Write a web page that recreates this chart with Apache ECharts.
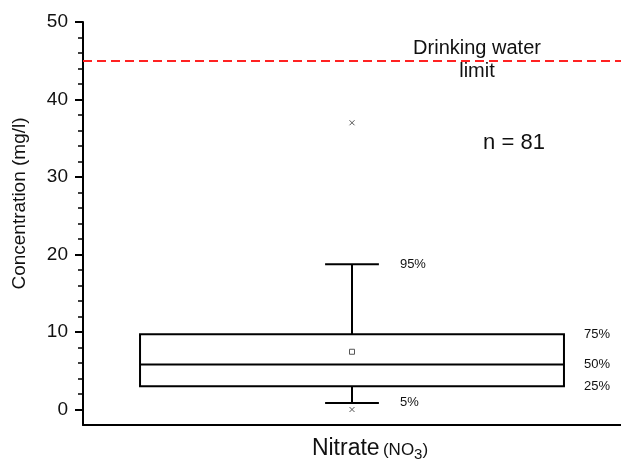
<!DOCTYPE html>
<html>
<head>
<meta charset="utf-8">
<script src="https://cdn.jsdelivr.net/npm/echarts@6/dist/echarts.min.js"></script>
<style>
  html, body { margin: 0; padding: 0; background: #fff; }
  #chart { width: 621px; height: 463px; }
</style>
</head>
<body>
<div id="chart"></div>
<script>
// Nitrate concentration summary (mg/l)
const categories = ['Nitrate'];
// percentiles per category: 5th, 25th, 50th, 75th, 95th
const p5 = [0.85];
const p25 = [3.0];
const p50 = [5.8];
const p75 = [9.7];
const p95 = [18.75];
const means = [7.45];
// individual extreme values: [category index, value]
const extremes = [[0, 37.0], [0, 0.0]];
const limitValue = 45;
const sampleCount = 81;
const majorTicks = [0, 10, 20, 30, 40, 50];
const minorTicks = [2, 4, 6, 8, 12, 14, 16, 18, 22, 24, 26, 28, 32, 34, 36, 38, 42, 44, 46, 48];

const FONT = "'Liberation Sans', Arial, sans-serif";

const boxData = categories.map((c, i) => [i, p5[i], p25[i], p50[i], p75[i], p95[i], means[i]]);

function renderBox(params, api) {
  const idx = api.value(0);
  const v = { p5: api.value(1), q1: api.value(2), med: api.value(3), q3: api.value(4), p95: api.value(5), mean: api.value(6) };
  const band = api.size([1, 0])[0];
  const cx = api.coord([idx, v.med])[0];
  const y = val => api.coord([idx, val])[1];
  const half = band * 0.394;
  const cap = band * 0.05;
  const stroke = { stroke: '#000', lineWidth: 2 };
  const line = (x1, y1, x2, y2) => ({ type: 'line', shape: { x1, y1, x2, y2 }, style: stroke });
  const label = (text, x, yy) => ({
    type: 'text',
    style: { text, x, y: yy, align: 'left', verticalAlign: 'middle', fontSize: 13, fontFamily: FONT, fill: '#111' }
  });
  return {
    type: 'group',
    children: [
      // whiskers
      line(cx, y(v.q3), cx, y(v.p95)),
      line(cx, y(v.q1), cx, y(v.p5)),
      line(cx - cap, y(v.p95), cx + cap, y(v.p95)),
      line(cx - cap, y(v.p5), cx + cap, y(v.p5)),
      // box
      { type: 'rect', shape: { x: cx - half, y: y(v.q3), width: 2 * half, height: y(v.q1) - y(v.q3) },
        style: { fill: 'none', stroke: '#000', lineWidth: 2 } },
      line(cx - half, y(v.med), cx + half, y(v.med)),
      // mean marker
      { type: 'rect', shape: { x: cx - 2.5, y: y(v.mean) - 2.5, width: 5, height: 5 },
        style: { fill: 'none', stroke: '#555', lineWidth: 1 } },
      // percentile labels
      label('95%', cx + cap + 21, y(v.p95)),
      label('5%', cx + cap + 21, y(v.p5)),
      label('75%', cx + half + 20, y(v.q3)),
      label('50%', cx + half + 20, y(v.med)),
      label('25%', cx + half + 20, y(v.q1))
    ]
  };
}

function renderCross(params, api) {
  const p = api.coord([api.value(0), api.value(1)]);
  const s = 2.5;
  const st = { stroke: '#555', lineWidth: 1 };
  return {
    type: 'group',
    children: [
      { type: 'line', shape: { x1: p[0] - s, y1: p[1] - s, x2: p[0] + s, y2: p[1] + s }, style: st },
      { type: 'line', shape: { x1: p[0] - s, y1: p[1] + s, x2: p[0] + s, y2: p[1] - s }, style: st }
    ]
  };
}

const chart = echarts.init(document.getElementById('chart'), null, { renderer: 'canvas' });
chart.setOption({
  animation: false,
  backgroundColor: '#fff',
  grid: { left: 83, right: 0, top: 22, bottom: 38, outerBoundsMode: 'none', containLabel: false },
  xAxis: {
    type: 'category',
    data: categories,
    boundaryGap: true,
    axisLine: { onZero: false, lineStyle: { color: '#000', width: 2 } },
    axisTick: { show: false },
    axisLabel: { show: false },
    name: '{a|Nitrate} {b|(NO}{c|3}{b|)}',
    nameLocation: 'middle',
    nameGap: 10,
    nameTextStyle: {
      padding: [0, 0, 0, 36],
      rich: {
        a: { fontSize: 23, fontFamily: FONT, color: '#111', lineHeight: 27 },
        b: { fontSize: 17, fontFamily: FONT, color: '#111', padding: [4, 0, 0, 0] },
        c: { fontSize: 15, fontFamily: FONT, color: '#111', padding: [12, 0, 0, 0] }
      }
    }
  },
  yAxis: [
    {
      type: 'value',
      min: -2,
      max: 50,
      position: 'left',
      axisLine: { show: true, onZero: false, lineStyle: { color: '#000', width: 2 } },
      axisTick: { show: true, inside: false, length: 8, customValues: majorTicks, lineStyle: { color: '#000', width: 2 } },
      axisLabel: { customValues: majorTicks, margin: 15, fontSize: 19, fontFamily: FONT, color: '#111' },
      splitLine: { show: false },
      name: 'Concentration (mg/l)',
      nameLocation: 'middle',
      nameGap: 54,
      nameTextStyle: { fontSize: 19, fontFamily: FONT, color: '#111', padding: [0, 0, 0, 40] }
    },
    {
      type: 'value',
      min: -2,
      max: 50,
      position: 'left',
      axisLine: { show: false, onZero: false },
      axisTick: { show: true, inside: false, length: 5, customValues: minorTicks, lineStyle: { color: '#000', width: 1.5 } },
      axisLabel: { show: false },
      splitLine: { show: false }
    }
  ],
  series: [
    {
      type: 'custom',
      name: 'box',
      renderItem: renderBox,
      data: boxData,
      encode: { x: 0, y: [1, 2, 3, 4, 5, 6] },
      markLine: {
        silent: true,
        symbol: 'none',
        label: { show: false },
        lineStyle: { color: '#f22', type: [9, 5], width: 2 },
        data: [{ yAxis: limitValue }]
      },
      z: 3
    },
    {
      type: 'custom',
      name: 'extremes',
      renderItem: renderCross,
      data: extremes,
      encode: { x: 0, y: 1 },
      z: 4
    }
  ],
  graphic: [
    {
      type: 'text',
      x: 477, y: 60,
      style: { text: 'Drinking water\nlimit', align: 'center', verticalAlign: 'middle', fontSize: 20, lineHeight: 23, fontFamily: FONT, fill: '#111' }
    },
    {
      type: 'text',
      x: 514, y: 143,
      style: { text: 'n = ' + sampleCount, align: 'center', verticalAlign: 'middle', fontSize: 22, fontFamily: FONT, fill: '#111' }
    }
  ]
});
</script>
</body>
</html>
